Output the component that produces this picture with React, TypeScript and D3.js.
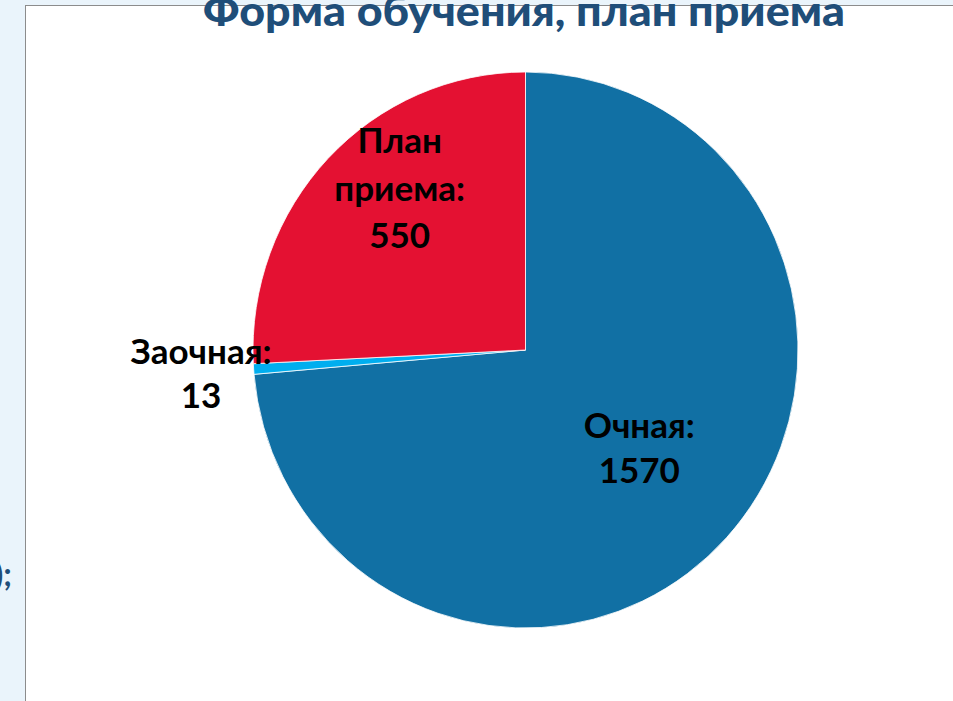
import React from "react";
import * as d3 from "d3";

const categories = ["Очная", "Заочная", "План приема"];
const values = [1570, 13, 550];
const labelLines = [["Очная:", "1570"], ["Заочная:", "13"], ["План", "приема:", "550"]];
const colors = ["#1170A4", "#00AEEF", "#E41132"];
const titleText = "Форма обучения, план приема";

const W = 953;
const H = 701;
const cx = 525.5;
const cy = 350;
const R = 278;
const sx = 272.5 / 278;

// label placement (radius factor, pixel nudge, line height)
const labelRadius = [0.55, 1.17, 0.6];
const labelNudge: [number, number][] = [[1, -4], [0, 2], [-5, -46]];
const labelLH = [45, 44, 47.5];

export default function App() {
  const pie = d3.pie<number>().sort(null).value((d) => d)(values);
  const arc = d3.arc<d3.PieArcDatum<number>>().innerRadius(0).outerRadius(R);
  const fs = 35;
  return (
    <svg
      width={W}
      height={H}
      style={{ position: "absolute", left: 0, top: 0, display: "block" }}
    >
      <rect x={0} y={0} width={W} height={H} fill="#EAF4FB" />
      <rect x={25.5} y={5.5} width={W} height={H} fill="#FFFFFF" stroke="#8C8C8C" strokeWidth={1} />
      <text
        x={12}
        y={586}
        textAnchor="end"
        fontFamily="Lato, 'Open Sans', sans-serif"
        fontWeight={700}
        fontSize={32}
        fill="#1F4E79"
      >
        );
      </text>
      <text
        x={524}
        y={26}
        textAnchor="middle"
        fontFamily="Lato, 'Open Sans', sans-serif"
        fontWeight={900}
        fontSize={42}
        fill="#1F4E79"
        textLength={642}
        lengthAdjust="spacingAndGlyphs"
      >
        {titleText}
      </text>
      <g transform={`translate(${cx},${cy}) scale(${sx},1)`}>
        {pie.map((p, i) => (
          <path key={categories[i]} d={arc(p) || ""} fill={colors[i]} stroke="#FFFFFF" strokeWidth={0.8} />
        ))}
      </g>
      {pie.map((p, i) => {
        const r = R * labelRadius[i];
        const c = d3.arc<d3.PieArcDatum<number>>().innerRadius(r).outerRadius(r).centroid(p);
        const x = cx + c[0] + labelNudge[i][0];
        const y = cy + c[1] + labelNudge[i][1];
        const lines = labelLines[i];
        const lh = labelLH[i];
        const y0 = y - ((lines.length - 1) * lh) / 2 + fs * 0.33;
        return (
          <text
            key={"l" + i}
            textAnchor="middle"
            fontFamily="Lato, 'Open Sans', sans-serif"
            fontWeight={700}
            fontSize={fs}
            fill="#000000"
          >
            {lines.map((ln, j) => (
              <tspan key={j} x={x} y={y0 + j * lh}>
                {ln}
              </tspan>
            ))}
          </text>
        );
      })}
    </svg>
  );
}
